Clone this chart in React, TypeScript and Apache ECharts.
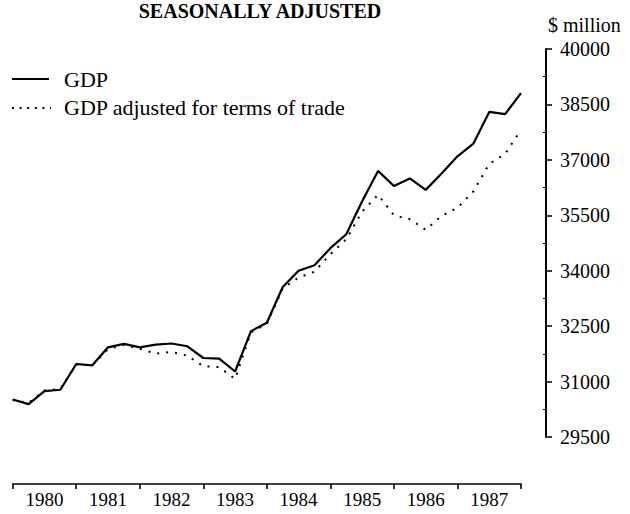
import React, { useEffect, useRef } from "react";
import * as echarts from "echarts";

const years = ["1980", "1981", "1982", "1983", "1984", "1985", "1986", "1987"];
// quarterly points, index 0 = start of 1980, index 32 = end of 1987
const quarterIndex = [
  0, 1, 2, 3, 4, 5, 6, 7, 8, 9, 10, 11, 12, 13, 14, 15, 16,
  17, 18, 19, 20, 21, 22, 23, 24, 25, 26, 27, 28, 29, 30, 31, 32,
];
const gdp = [
  30513, 30390, 30740, 30778, 31475, 31437, 31927, 32020, 31927, 32000, 32030,
  31955, 31638, 31620, 31273, 32364, 32590, 33558, 34000, 34149, 34610, 34987,
  35881, 36701, 36294, 36497, 36188, 36630, 37097, 37439, 38297, 38237, 38808,
];
const gdpAdjusted = [
  30500, 30420, 30760, 30800, 31460, 31440, 31880, 31990, 31890, 31755, 31800,
  31700, 31415, 31390, 31073, 32330, 32560, 33524, 33815, 33974, 34450, 34850,
  35600, 36055, 35500, 35395, 35107, 35484, 35704, 36145, 36894, 37159, 37816,
];
const yTicks = [29500, 31000, 32500, 34000, 35500, 37000, 38500, 40000];
const yMinorTicks = [30250, 31750, 33250, 34750, 36250, 37750, 39250];
const seriesNames = ["GDP", "GDP adjusted for terms of trade"];

const FONT = "'Liberation Serif', 'Times New Roman', serif";

export default function App() {
  const ref = useRef<HTMLDivElement>(null);
  useEffect(() => {
    if (!ref.current) return;
    const chart = echarts.init(ref.current, undefined, { renderer: "svg" });
    chart.setOption({
      animation: false,
      backgroundColor: "#ffffff",
      textStyle: { fontFamily: FONT, color: "#000" },
      grid: { left: 12.7, right: 109, top: 49, bottom: 77, containLabel: false },
      graphic: [
        {
          type: "text",
          x: 260,
          y: 10.5,
          style: {
            text: "SEASONALLY ADJUSTED",
            font: `bold 20px ${FONT}`,
            fill: "#000",
            align: "center",
            verticalAlign: "middle",
          },
        },
        {
          type: "text",
          x: 548,
          y: 25,
          style: {
            text: "$ million",
            font: `20px ${FONT}`,
            fill: "#000",
            align: "left",
            verticalAlign: "middle",
          },
        },
        {
          type: "line",
          shape: { x1: 12, y1: 79, x2: 49, y2: 79 },
          style: { stroke: "#000", lineWidth: 2.2 },
        },
        {
          type: "text",
          x: 64,
          y: 79,
          style: {
            text: seriesNames[0],
            font: `22px ${FONT}`,
            fill: "#000",
            align: "left",
            verticalAlign: "middle",
          },
        },
        {
          type: "line",
          shape: { x1: 12, y1: 108, x2: 51, y2: 108 },
          style: { stroke: "#000", lineWidth: 2, lineDash: [2, 5.6] },
        },
        {
          type: "text",
          x: 64,
          y: 107.5,
          style: {
            text: seriesNames[1],
            font: `22px ${FONT}`,
            fill: "#000",
            align: "left",
            verticalAlign: "middle",
          },
        },
      ],
      xAxis: [
        {
          type: "value",
          min: 0,
          max: 32,
          show: false,
        },
        {
          type: "category",
          data: years,
          position: "bottom",
          offset: 47,
          boundaryGap: true,
          axisLine: { show: true, onZero: false, lineStyle: { color: "#000", width: 1.6 } },
          axisTick: { show: true, length: 5, lineStyle: { color: "#000", width: 1.6 } },
          axisLabel: { fontSize: 19, fontFamily: FONT, color: "#000", margin: 6 },
          splitLine: { show: false },
        },
      ],
      yAxis: [
        {
          type: "value",
          position: "right",
          offset: 25,
          min: 29500,
          max: 40000,
          axisLine: { show: true, onZero: false, lineStyle: { color: "#000", width: 2 } },
          axisTick: {
            show: true,
            length: 6,
            customValues: yTicks,
            lineStyle: { color: "#000", width: 1.5 },
          },
          axisLabel: {
            customValues: yTicks,
            formatter: (v: number) => String(v),
            fontSize: 20,
            fontFamily: FONT,
            color: "#000",
            margin: 14,
          },
          splitLine: { show: false },
        },
        {
          type: "value",
          position: "left",
          offset: -533.3,
          min: 29500,
          max: 40000,
          axisLine: { show: false, onZero: false },
          axisTick: {
            show: true,
            inside: false,
            length: 3,
            customValues: yMinorTicks,
            lineStyle: { color: "#000", width: 1 },
          },
          axisLabel: { show: false },
          splitLine: { show: false },
        },
      ],
      series: [
        {
          name: seriesNames[0],
          type: "line",
          xAxisIndex: 0,
          yAxisIndex: 0,
          showSymbol: false,
          symbol: "none",
          data: quarterIndex.map((k, i) => [k, gdp[i]]),
          lineStyle: { color: "#000", width: 2.2 },
          itemStyle: { color: "#000" },
        },
        {
          name: seriesNames[1],
          type: "line",
          xAxisIndex: 0,
          yAxisIndex: 0,
          showSymbol: false,
          symbol: "none",
          data: quarterIndex.map((k, i) => [k, gdpAdjusted[i]]),
          lineStyle: { color: "#000", width: 2, type: [2, 7] },
          itemStyle: { color: "#000" },
        },
      ],
    });
    return () => chart.dispose();
  }, []);
  return <div ref={ref} style={{ width: 630, height: 514, position: "absolute", left: 0, top: 0 }} />;
}
